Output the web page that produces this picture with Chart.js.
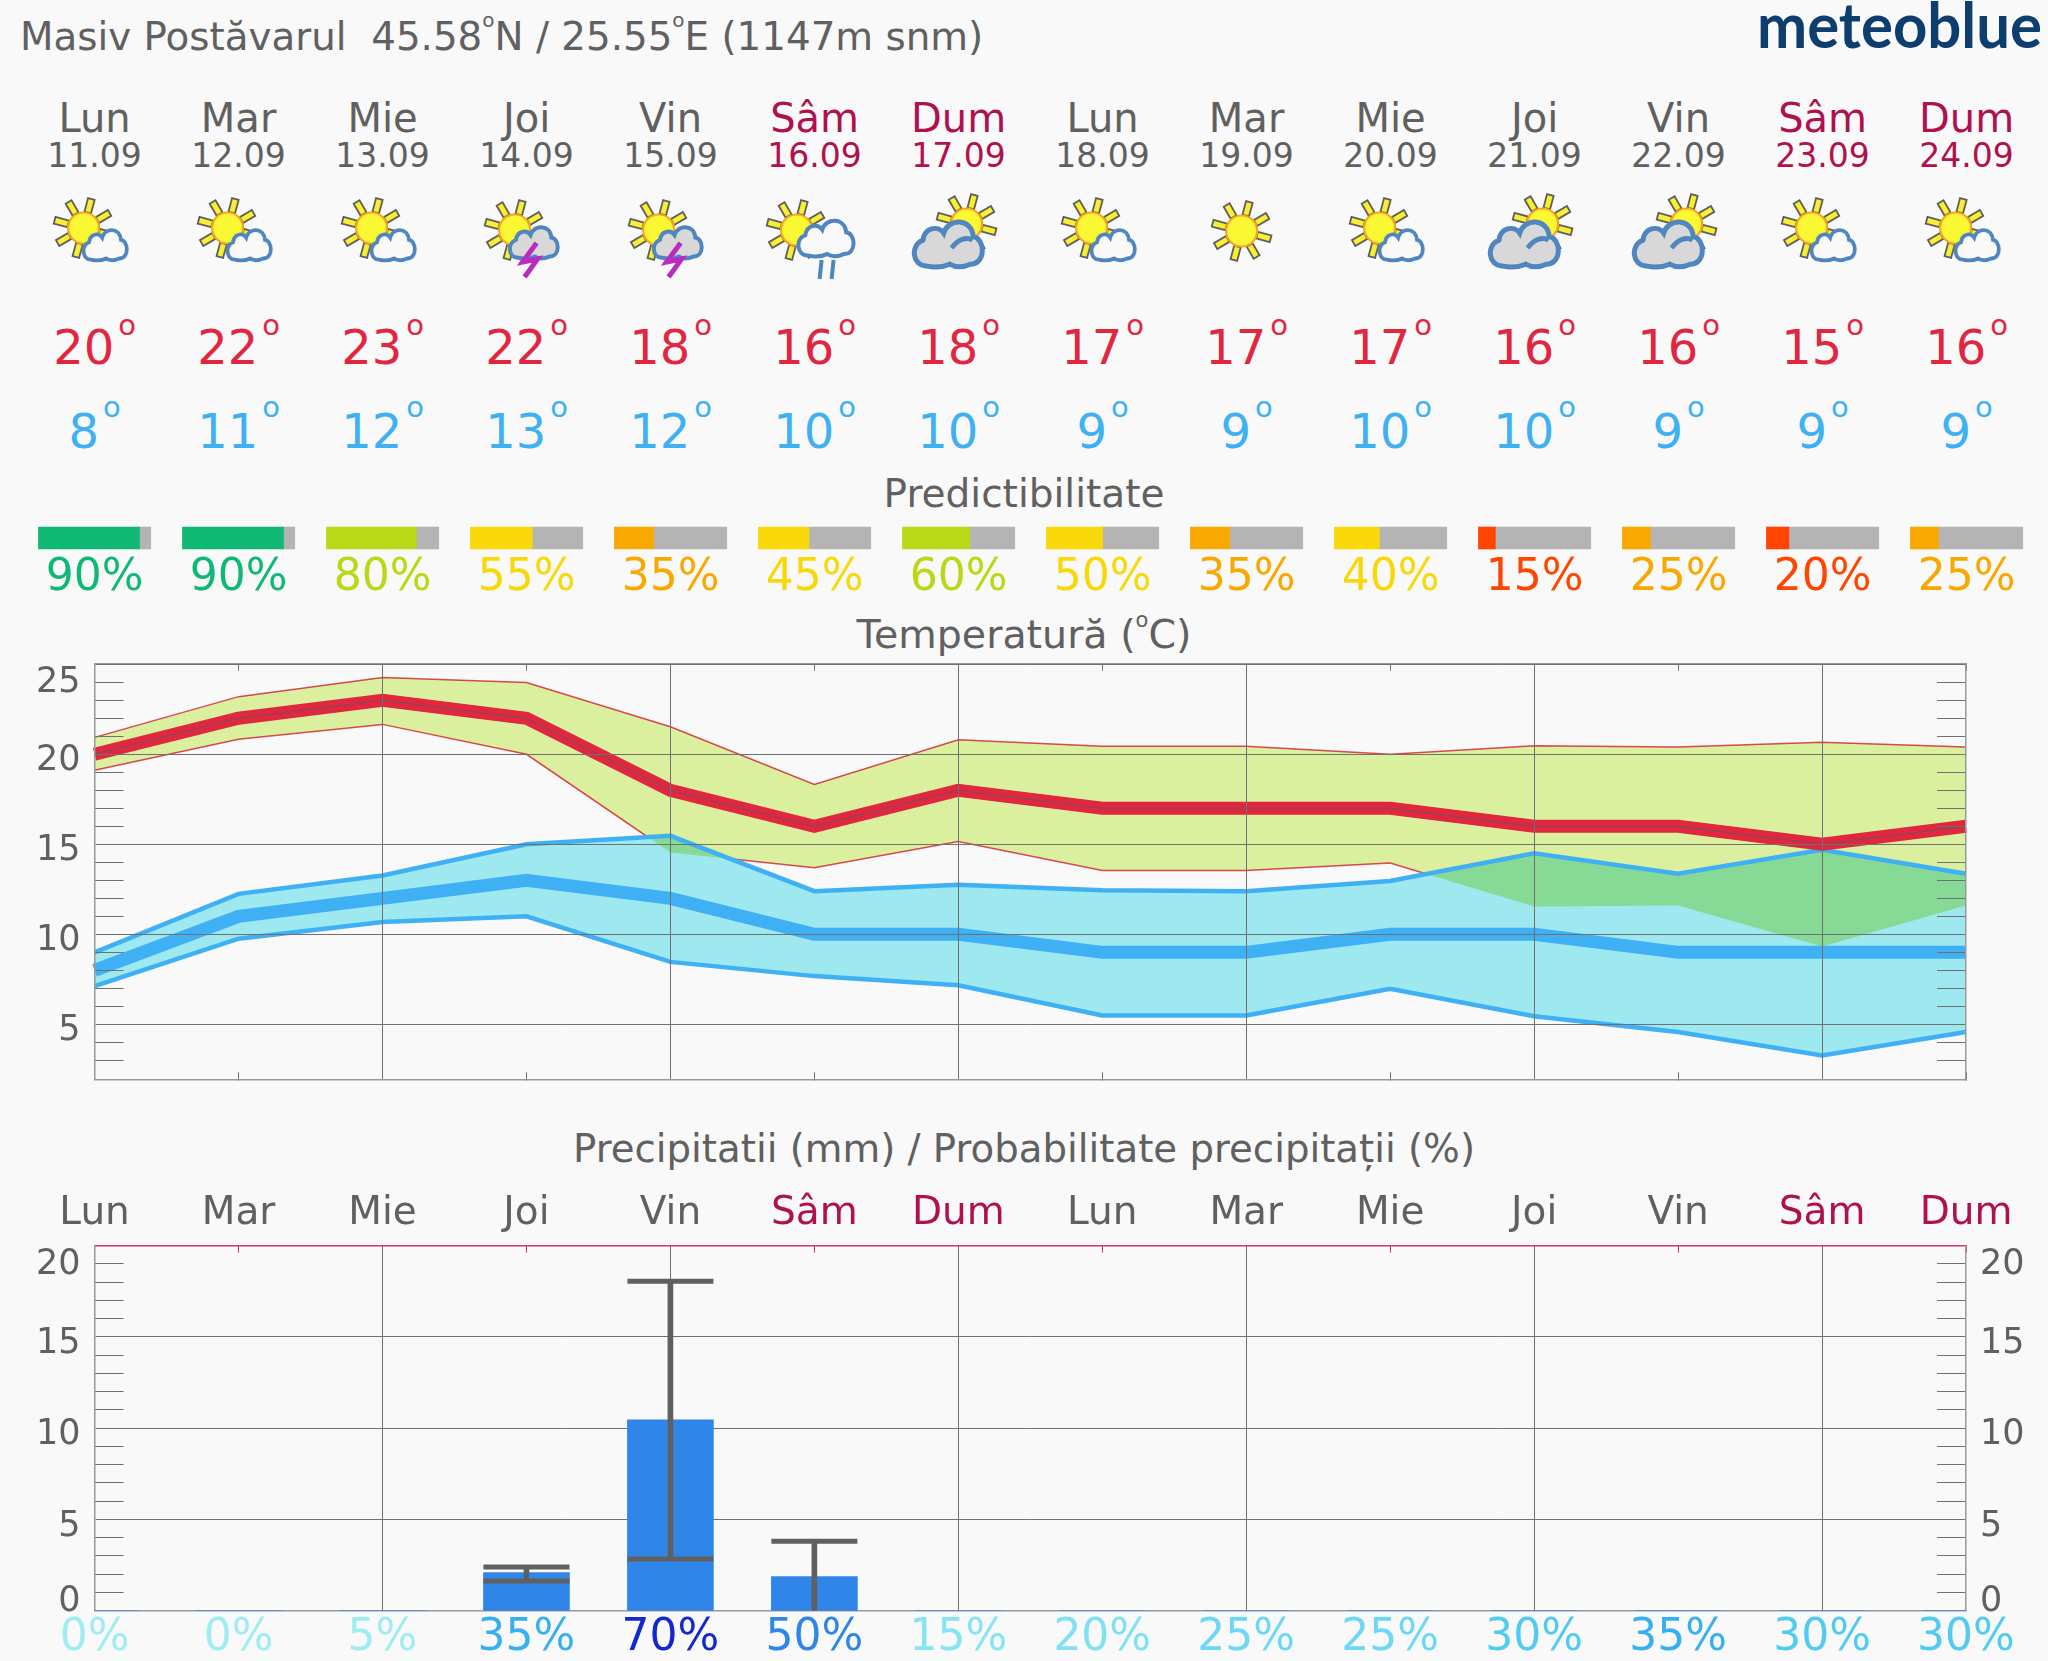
<!DOCTYPE html>
<html lang="ro">
<head>
    <meta charset="UTF-8">
    <title>Masiv Postăvarul</title>
    <style>
        html, body { margin: 0; padding: 0; background: #f9f9f9; width: 2048px; height: 1661px; overflow: hidden; }
        canvas, #overlay { position: absolute; left: 0; }
        #overlay { top: 0; font-family: "DejaVu Sans", sans-serif; fill: #606060; }
    </style>
</head>
<body>
    <svg id="overlay" width="2048" height="1661"></svg>
    <canvas id="predictChart" width="2048" height="84" style="top:520px"></canvas>
    <canvas id="tempChart" width="2048" height="500" style="top:620px"></canvas>
    <canvas id="precipChart" width="2048" height="481" style="top:1180px"></canvas>

    <script src="https://cdn.jsdelivr.net/npm/chart.js"></script>
    <script>
        // Data
        const days = ['Lun', 'Mar', 'Mie', 'Joi', 'Vin', 'Sâm', 'Dum', 'Lun', 'Mar', 'Mie', 'Joi', 'Vin', 'Sâm', 'Dum'];
        const dates = ['11.09', '12.09', '13.09', '14.09', '15.09', '16.09', '17.09', '18.09', '19.09', '20.09', '21.09', '22.09', '23.09', '24.09'];
        const icons = ['sunCloud', 'sunCloud', 'sunCloud', 'thunder', 'thunder', 'rain', 'overcast', 'sunCloud', 'sun', 'sunCloud', 'overcast', 'overcast', 'sunCloud', 'sunCloud'];

        const tempMax = [20, 22, 23, 22, 18, 16, 18, 17, 17, 17, 16, 16, 15, 16];
        const tempMin = [8, 11, 12, 13, 12, 10, 10, 9, 9, 10, 10, 9, 9, 9];
        const redHigh = [20.94, 23.2, 24.27, 23.99, 21.53, 18.33, 20.8, 20.45, 20.45, 20.0, 20.48, 20.4, 20.67, 20.4];
        const redLow = [19.11, 20.83, 21.66, 20.0, 14.55, 13.7, 15.15, 13.55, 13.55, 13.96, 11.55, 11.6, 9.33, 11.6];
        const blueHigh = [9.0, 12.25, 13.27, 15.0, 15.47, 12.4, 12.75, 12.45, 12.4, 12.96, 14.5, 13.36, 14.7, 13.36];
        const blueLow = [7.12, 9.76, 10.68, 11.0, 8.47, 7.68, 7.17, 5.5, 5.5, 6.97, 5.45, 4.58, 3.27, 4.58];
        const tempTicks = [5, 10, 15, 20, 25];
        const tempMinorTicks = [3, 4, 6, 7, 8, 9, 11, 12, 13, 14, 16, 17, 18, 19, 21, 22, 23, 24];

        const predict = [90, 90, 80, 55, 35, 45, 60, 50, 35, 40, 15, 25, 20, 25];
        const predictColors = ['#10b876', '#10b876', '#b8d818', '#f8d808', '#f8a800', '#f8d808', '#b8d818', '#f8d808', '#f8a800', '#f8d808', '#ff4500', '#f8a800', '#ff4500', '#f8a800'];

        const precipMm = [0, 0, 0, 2.09, 10.46, 1.87, 0, 0, 0, 0, 0, 0, 0, 0];
        const precipHigh = [null, null, null, 2.4, 18.05, 3.8, null, null, null, null, null, null, null, null];
        const precipLow = [null, null, null, 1.63, 2.83, 0, null, null, null, null, null, null, null, null];
        const precipProb = [0, 0, 5, 35, 70, 50, 15, 20, 25, 25, 30, 35, 30, 30];
        const precipProbColors = ['#a0ecf4', '#a0ecf4', '#a0ecf4', '#38b0f0', '#1428d0', '#2f86e8', '#86e4f4', '#80e0f4', '#6cd8f4', '#6cd8f4', '#50ccf0', '#38b0f0', '#50ccf0', '#50ccf0'];
        const precipTicks = [0, 5, 10, 15, 20];
        const precipMinorTicks = [1, 2, 3, 4, 6, 7, 8, 9, 11, 12, 13, 14, 16, 17, 18, 19];

        const TEXT = '#606060';
        const WEEKEND = '#b0104e';
        const GRID = '#707070';
        const LEFT = 94.6;
        const DAY_W = 144;
        const FONT = 'DejaVu Sans';

        const isWeekend = i => days[i] === 'Sâm' || days[i] === 'Dum';
        const dayX = i => LEFT + i * DAY_W;

        // ---------- text and icons above the charts ----------
        function label(x, y, size, color, body, anchor) {
            return `<text x="${x}" y="${y}" font-size="${size}" fill="${color}" text-anchor="${anchor || 'middle'}">${body}</text>`;
        }

        const cloudPath = 'M22 58 C4 58 0 34 18 28 C20 14 38 10 46 20 C52 2 84 2 86 24 C102 26 104 56 82 56 C72 60 62 60 54 56 C44 60 32 60 22 58 Z';
        function sun(cx, cy) {
            let out = '';
            [-165, -120, -75, -30, 15, 60, 105, 150].forEach(a => {
                out += `<rect x="-3.4" y="-30" width="6.8" height="14" fill="#f9ee30" stroke="#5e5e5e" stroke-width="1.8" transform="translate(${cx} ${cy}) rotate(${a})"/>`;
            });
            return out + `<circle cx="${cx}" cy="${cy}" r="15.5" fill="#faf832" stroke="#f5a623" stroke-width="2.2"/>`;
        }
        function cloud(x, y, sx, sy, fill, sw) {
            return `<path d="${cloudPath}" transform="translate(${x} ${y}) scale(${sx} ${sy})" fill="${fill}" stroke="#4f86c0" stroke-width="${sw}" vector-effect="non-scaling-stroke"/>`;
        }
        const iconBody = {
            sun: sun(45, 41),
            sunCloud: sun(39, 38) + cloud(36, 36, 0.47, 0.58, '#f9f9f9', 3.8),
            thunder: sun(38, 40) + cloud(30, 33, 0.52, 0.6, '#d8d8d8', 4) +
                '<polyline points="60,53 46,72 61,69 48,87" fill="none" stroke="#b82cc0" stroke-width="5"/>',
            rain: sun(32, 40) + cloud(30, 26, 0.6, 0.68, '#f9f9f9', 4) +
                '<path d="M57 70 L55 89 M69 70 L67 89" stroke="#4f86c0" stroke-width="4"/>',
            overcast: sun(58, 34) + cloud(1, 26, 0.74, 0.86, '#d8d8d8', 5) +
                '<path d="M43 58 C49 50 57 46 64 50" fill="none" stroke="#4f86c0" stroke-width="5"/>'
        };

        let svg = '';
        svg += label(20, 50, 38.8, TEXT, 'Masiv Postăvarul\u00a0\u00a045.58<tspan font-size="20" dy="-23">o</tspan><tspan dy="23">N / 25.55</tspan><tspan font-size="20" dy="-23">o</tspan><tspan dy="23">E (1147m snm)</tspan>', 'start');
        svg += `<text x="1757" y="48" font-size="63" font-family="Lato" font-weight="700" fill="#0e3e6e" textLength="285" lengthAdjust="spacingAndGlyphs">meteoblue</text>`;
        days.forEach((d, i) => {
            const c = isWeekend(i) ? WEEKEND : TEXT;
            svg += label(dayX(i), 132, 40, c, d);
            svg += label(dayX(i), 166.5, 33, c, dates[i]);
            svg += `<g transform="translate(${dayX(i) - 50} 190)">${iconBody[icons[i]]}</g>`;
            svg += label(dayX(i), 364, 48, '#e0273f', `${tempMax[i]}<tspan font-size="29" dy="-29" dx="4">o</tspan>`);
            svg += label(dayX(i), 448, 48, '#3fb0f4', `${tempMin[i]}<tspan font-size="29" dy="-31" dx="4">o</tspan>`);
        });
        svg += label(1024, 507, 39, TEXT, 'Predictibilitate');
        svg += label(1024, 648, 39.5, TEXT, 'Temperatură (<tspan font-size="21" dy="-21">o</tspan><tspan dy="21">C)</tspan>');
        svg += label(1024, 1162, 38.7, TEXT, 'Precipitatii (mm) / Probabilitate precipitații (%)');
        document.getElementById('overlay').innerHTML = svg;

        // ---------- Chart.js bits shared by the charts ----------
        // band overlap is a multiply of the two band colours, so the filler has to run after this hook
        const bandBlend = {
            id: 'bandBlend',
            beforeDatasetDraw(chart, args) {
                if (chart.data.datasets[args.index].multiply) chart.ctx.globalCompositeOperation = 'multiply';
            },
            afterDatasetDraw(chart) {
                chart.ctx.globalCompositeOperation = 'source-over';
            }
        };
        Chart.unregister(Chart.Filler);
        Chart.register(bandBlend);
        Chart.register(Chart.Filler);

        // top and bottom y labels sit inside the plot in the original
        const labelNudge = {
            id: 'labelNudge',
            beforeDraw(chart, args, opts) {
                opts.axes.forEach(id => {
                    chart.scales[id].getLabelItems().forEach(item => {
                        if (item.nudged) return;
                        item.nudged = true;
                        if (opts.shift[item.label]) item.options.translation[1] += opts.shift[item.label];
                    });
                });
            }
        };

        const setTicks = values => scale => { scale.ticks = values.map(v => ({ value: v })); };

        function minorAxis(position, min, max, values, z) {
            return {
                position, min, max, weight: 0,
                afterBuildTicks: setTicks(values),
                afterFit: s => { s.width = 0; },
                border: { display: false },
                grid: { drawOnChartArea: false, tickLength: -29, tickColor: GRID, tickWidth: 1, z },
                ticks: { display: false }
            };
        }
        function mainAxis(position, min, max, values, width, showLabels, grid, z) {
            return {
                position, min, max, weight: 1,
                afterBuildTicks: setTicks(values),
                afterFit: s => { s.width = width; },
                border: { color: '#999999', width: 1.5, z },
                grid,
                ticks: {
                    display: showLabels, color: TEXT, padding: 14, labelOffset: 7,
                    font: { family: FONT, size: 35 },
                    callback: v => String(v)
                }
            };
        }
        const oddTicks = color => ctx => (ctx.index % 2 === 1 ? color : 'rgba(0,0,0,0)');
        const evenGrid = ctx => (ctx.index % 2 === 0 && ctx.index > 0 ? GRID : 'rgba(0,0,0,0)');

        // ---------- predictability bars ----------
        const PRED_HALF = 0.39;
        const predictSets = [];
        predict.forEach((p, i) => {
            const start = i - PRED_HALF;
            const split = start + 2 * PRED_HALF * p / 100;
            predictSets.push({ data: [[start, split]], backgroundColor: predictColors[i] });
            predictSets.push({ data: [[split, i + PRED_HALF]], backgroundColor: '#b4b4b4' });
        });
        new Chart(document.getElementById('predictChart'), {
            type: 'bar',
            data: { labels: [''], datasets: predictSets },
            options: {
                indexAxis: 'y',
                responsive: false,
                animation: false,
                datasets: { bar: { grouped: false, barThickness: 22, borderWidth: 0 } },
                plugins: { legend: { display: false }, tooltip: { enabled: false } },
                scales: {
                    y: { display: false },
                    x: {
                        type: 'linear',
                        min: -LEFT / DAY_W,
                        max: (2048 - LEFT) / DAY_W,
                        afterBuildTicks: setTicks(predict.map((p, i) => i)),
                        afterFit: s => { s.height = 48; },
                        border: { display: false },
                        grid: { display: false },
                        ticks: {
                            autoSkip: false, maxRotation: 0, padding: -12,
                            font: { family: FONT, size: 44 },
                            color: ctx => predictColors[ctx.index],
                            callback: (v, i) => predict[i] + '%'
                        }
                    }
                }
            }
        });

        // ---------- temperature ----------
        const plainLine = { pointRadius: 0, tension: 0, fill: false };
        new Chart(document.getElementById('tempChart'), {
            type: 'line',
            data: {
                labels: days,
                datasets: [
                    // thin red edges go first, the blue band hides them, the red band then multiplies over it
                    { ...plainLine, data: redHigh, borderWidth: 0, backgroundColor: '#daf09e', fill: '+1', multiply: true, order: 27 },
                    { ...plainLine, data: redLow, borderColor: '#e84a5f', borderWidth: 1.5, order: 29 },
                    { ...plainLine, data: redHigh, borderColor: '#e84a5f', borderWidth: 1.5, order: 30 },
                    { ...plainLine, data: blueHigh, borderWidth: 0, backgroundColor: '#9ee8f0', fill: '+1', order: 28 },
                    { ...plainLine, data: blueLow, borderColor: '#3fb0f4', borderWidth: 4.5, order: 26 },
                    { ...plainLine, data: blueHigh, borderColor: '#3fb0f4', borderWidth: 4.5, order: 25 },
                    { ...plainLine, data: tempMin, borderColor: '#3fb0f4', borderWidth: 13, clip: false, order: 24 },
                    { ...plainLine, data: tempMax, borderColor: '#e0273f', borderWidth: 13, clip: false, order: 23 },
                    { ...plainLine, data: tempMax, borderColor: 'rgba(90,90,90,0.8)', borderWidth: 1, order: 22 }
                ]
            },
            options: {
                responsive: false,
                animation: false,
                plugins: {
                    legend: { display: false },
                    tooltip: { enabled: false },
                    labelNudge: { axes: ['y'], shift: { '25': 12 } }
                },
                scales: {
                    x: {
                        afterFit: s => { s.height = 40.7; },
                        border: { color: '#999999', width: 1.5, z: 1 },
                        grid: { color: evenGrid, tickColor: oddTicks(GRID), tickLength: -7, z: 1 },
                        ticks: { display: false }
                    },
                    xTop: {
                        type: 'category', labels: days, position: 'top',
                        afterFit: s => { s.height = 43.7; },
                        border: { color: '#999999', width: 1.5, z: 1 },
                        grid: { drawOnChartArea: false, tickColor: oddTicks(GRID), tickLength: -7, z: 1 },
                        ticks: { display: false }
                    },
                    yMinorL: minorAxis('left', 1.95, 25.03, tempMinorTicks, 1),
                    yMinorR: minorAxis('right', 1.95, 25.03, tempMinorTicks, 1),
                    y: mainAxis('left', 1.95, 25.03, tempTicks, LEFT, true, { color: GRID, drawTicks: false, z: 1 }, 1),
                    yR: mainAxis('right', 1.95, 25.03, tempTicks, 82, false, { drawOnChartArea: false, drawTicks: false, z: 1 }, 1)
                }
            },
            plugins: [labelNudge]
        });

        // ---------- precipitation ----------
        const capLine = { type: 'line', showLine: false, pointStyle: 'line', pointRadius: 43, pointBorderWidth: 5, pointBorderColor: '#606060', clip: false, order: 1 };
        new Chart(document.getElementById('precipChart'), {
            type: 'bar',
            data: {
                labels: days,
                datasets: [
                    { data: precipMm, backgroundColor: '#3086e8', barThickness: 86, grouped: false, order: 5 },
                    { data: precipHigh.map((h, i) => (h === null ? null : [precipLow[i], h])), backgroundColor: '#606060', barThickness: 5, grouped: false, order: 3 },
                    { ...capLine, data: precipHigh },
                    // a whisker that ends on the axis has no lower cap
                    { ...capLine, data: precipLow.map(v => (v === 0 ? null : v)) }
                ]
            },
            options: {
                responsive: false,
                animation: false,
                plugins: {
                    legend: { display: false },
                    tooltip: { enabled: false },
                    labelNudge: { axes: ['y', 'yR'], shift: { '20': 12, '0': -16 } }
                },
                scales: {
                    x: {
                        type: 'category', offset: false,
                        afterFit: s => { s.height = 50.3; },
                        border: { color: '#999999', width: 1.5 },
                        grid: { offset: false, color: evenGrid, drawTicks: false },
                        ticks: {
                            autoSkip: false, maxRotation: 0, padding: 1,
                            font: { family: FONT, size: 44 },
                            color: ctx => precipProbColors[ctx.index],
                            callback: (v, i) => precipProb[i] + '%'
                        }
                    },
                    xTop: {
                        type: 'category', labels: days, position: 'top', offset: false,
                        afterFit: s => { s.height = 65.6; },
                        border: { color: '#d8306e', width: 1.5 },
                        grid: { offset: false, drawOnChartArea: false, tickColor: oddTicks('#d8306e'), tickLength: -7 },
                        ticks: {
                            autoSkip: false, maxRotation: 0, padding: 15,
                            font: { family: FONT, size: 39 },
                            color: ctx => (isWeekend(ctx.index) ? WEEKEND : TEXT)
                        }
                    },
                    yMinorL: minorAxis('left', 0, 20, precipMinorTicks),
                    yMinorR: minorAxis('right', 0, 20, precipMinorTicks),
                    y: mainAxis('left', 0, 20, precipTicks, LEFT, true, { color: GRID, drawTicks: false }),
                    yR: mainAxis('right', 0, 20, precipTicks, 82, true, { drawOnChartArea: false, drawTicks: false })
                }
            },
            plugins: [labelNudge]
        });
    </script>
</body>
</html>
